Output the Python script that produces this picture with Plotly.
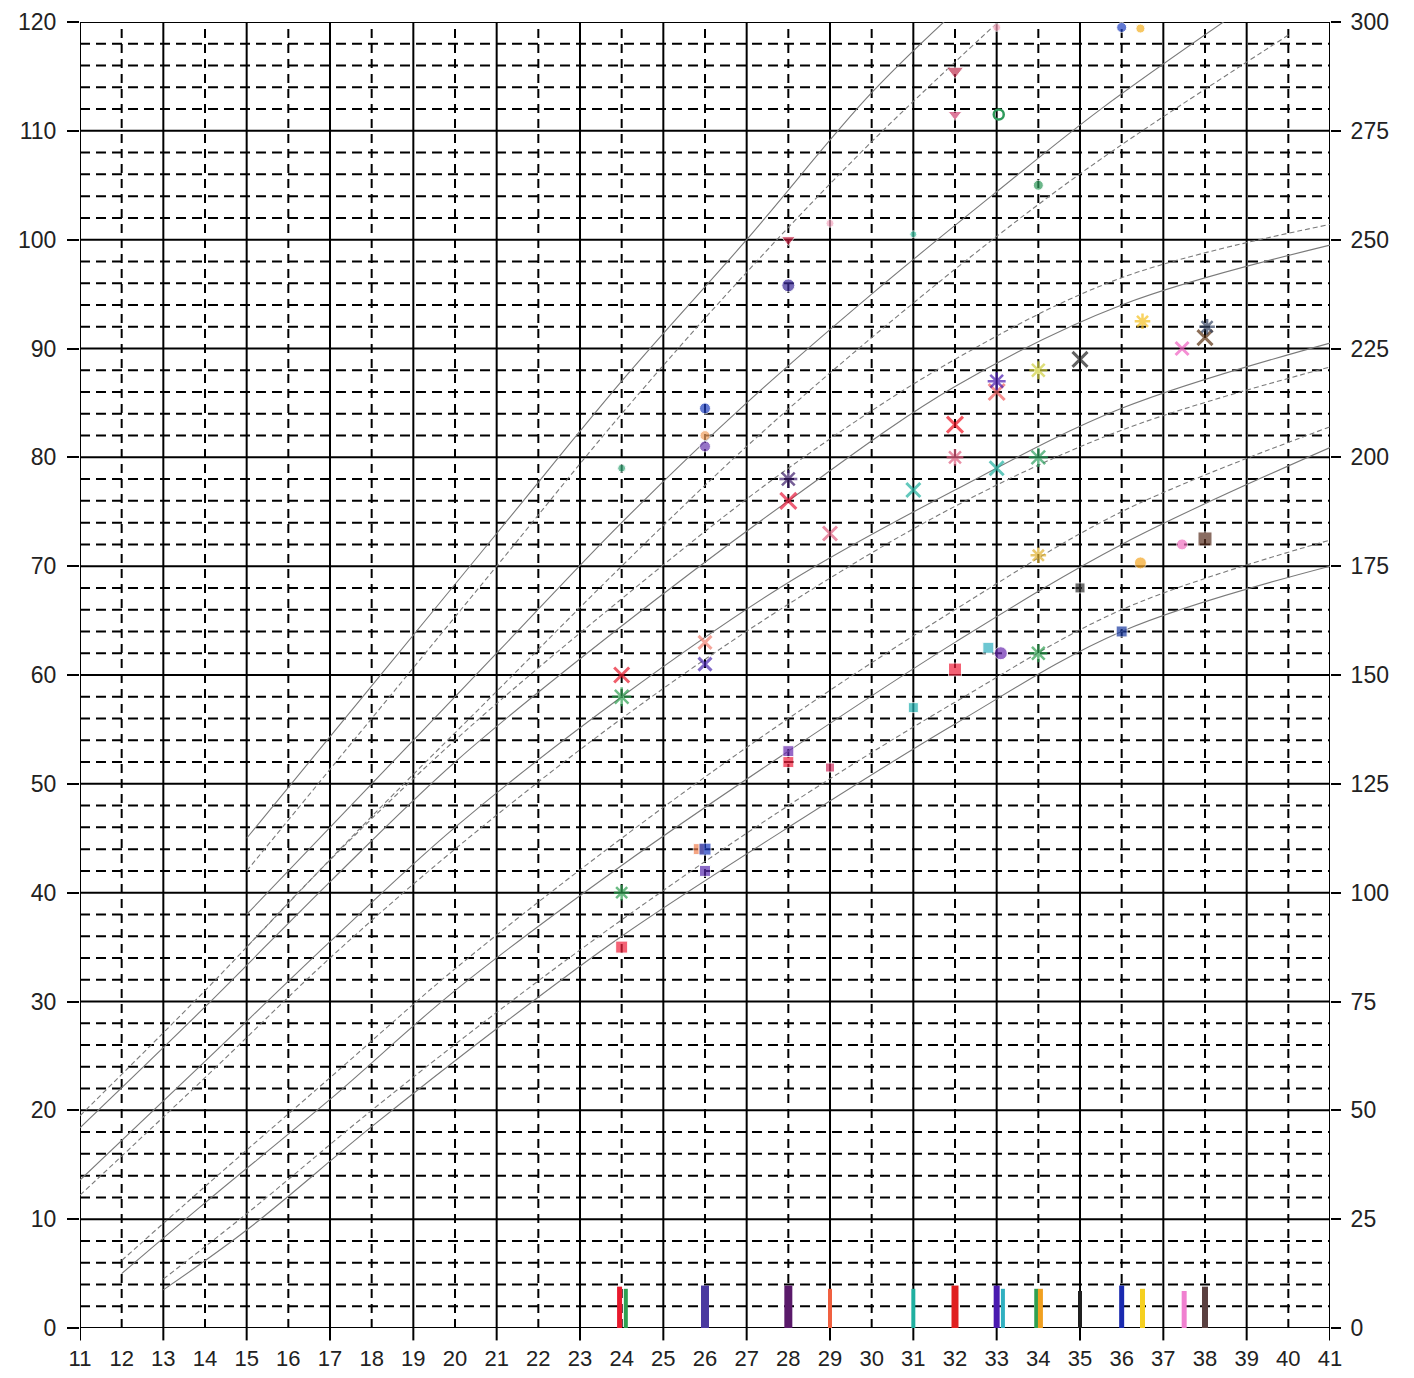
import plotly.graph_objects as go

# ---------------- axes ----------------
x_ticks = list(range(11, 42))
left_ticks = list(range(0, 121, 10))
right_ticks = list(range(0, 301, 25))

# ---------------- reference curves (left-axis units) ----------------
# steep group (right-axis measures)
c1_w = [15, 18, 21, 24, 27, 30, 32.3]
c1_v = [45, 59, 73, 87, 100, 113.5, 122]
c2_w = [15, 18, 21, 24, 27, 30, 33.6]
c2_v = [42, 56, 70, 84, 97, 109, 122]
c3_w = [15, 18, 21, 24, 27, 30, 33, 35.5, 39.2]
c3_v = [38, 50, 62, 74, 85, 95, 104.4, 112, 122]
c4_w = [15, 18, 21, 24, 27, 30, 33, 35.5, 40]
c4_v = [35, 47, 58.5, 70, 81, 91, 100.3, 107.4, 118.8]
# middle group
a1_w = [11, 14, 17, 20, 24, 28, 32, 36, 41]
a1_v = [19.5, 31, 43, 54, 67, 79, 89, 96.5, 101.4]
a2_w = [11, 14, 17, 20, 24, 28, 32, 36, 41]
a2_v = [18.4, 29.5, 41, 52, 64.5, 76, 86.5, 94, 99.5]
a3_w = [11, 14, 17, 20, 24, 28, 32, 36, 41]
a3_v = [13.6, 24.5, 35.5, 46, 58, 68.5, 77, 84.5, 90.5]
a4_w = [11, 14, 17, 20, 24, 28, 32, 36, 41]
a4_v = [12.2, 23, 34, 44, 56, 66.5, 75.5, 82.5, 88.3]
# lower group
b1_w = [12, 14, 17, 20, 24, 28, 32, 36, 41]
b1_v = [6.2, 13, 23, 33, 45, 56, 66, 75, 82.8]
b2_w = [12, 14, 17, 20, 24, 28, 32, 36, 41]
b2_v = [5, 11.5, 21, 31, 42.5, 53, 63, 72, 80.9]
b3_w = [13, 15, 18, 21, 24, 28, 32, 36, 41]
b3_v = [4.5, 10.5, 20, 29, 37.5, 48, 57.5, 66, 72.4]
b4_w = [13, 15, 18, 21, 24, 28, 32, 36, 41]
b4_v = [3.5, 9, 18.5, 27.5, 36, 46, 55.5, 64, 70]

curves = [
    (c1_w, c1_v, "solid"), (c2_w, c2_v, "dash"), (c3_w, c3_v, "solid"), (c4_w, c4_v, "dash"),
    (a1_w, a1_v, "dash"), (a2_w, a2_v, "solid"), (a3_w, a3_v, "solid"), (a4_w, a4_v, "dash"),
    (b1_w, b1_v, "dash"), (b2_w, b2_v, "solid"), (b3_w, b3_v, "dash"), (b4_w, b4_v, "solid"),
]

# ---------------- measurements ----------------
circ_x = [24, 26, 26, 26, 28, 29, 31, 33, 34, 36, 36.45, 37.45, 33.1, 36.45]
circ_y = [79, 84.5, 82, 81, 95.8, 101.5, 100.5, 119.5, 105, 119.5, 119.4, 72, 62, 70.3]
circ_c = ["#3aa87a", "#1f3fbf", "#f0a060", "#6a3ab0", "#3b2a9a", "#f4a6c0", "#3cc0a0",
          "#f4a0b8", "#2e9a5a", "#1f3fbf", "#f5b020", "#f070c0", "#6a2ab0", "#f5a623"]
circ_s = [8, 11, 10, 11, 13, 8, 7, 8, 10, 10, 9, 11, 13, 12]

ring_x = [33.05]
ring_y = [111.5]
ring_c = ["#2e9a5a"]

heart_x = [28, 32, 32]
heart_y = [100, 115.5, 111.5]
heart_c = ["#c0183a", "#c03050", "#d04070"]
heart_s = [12, 15, 12]

cross_x = [24, 26, 26, 28, 29, 31, 32, 33, 33, 35, 37.45, 38]
cross_y = [60, 63, 61, 76, 73, 77, 83, 86, 79, 89, 90, 91]
cross_c = ["#e8192c", "#f08070", "#4a2ab0", "#e8193c", "#e06080", "#20b0a0",
           "#f01020", "#f06060", "#20b0a0", "#202020", "#f060c0", "#5a3010"]
cross_s = [15, 13, 13, 16, 14, 14, 16, 16, 14, 15, 13, 15]

star_x = [24, 28, 32, 33, 34, 34, 34, 34, 38.05, 36.5, 24]
star_y = [58, 78, 80, 87, 88, 80, 71, 62, 92, 92.5, 40]
star_c = ["#2ea050", "#3a1a6a", "#e06080", "#4a1ab0", "#d0d040", "#2ea060",
          "#e0b030", "#2ea050", "#304060", "#f5c020", "#2ea050"]
star_s = [16, 15, 14, 15, 15, 16, 13, 15, 13, 13, 13]

sq_x = [24, 25.85, 26, 26, 28, 28, 29, 31, 32, 32.8, 35, 36, 38]
sq_y = [35, 44, 44, 42, 53, 52, 51.5, 57, 60.5, 62.5, 68, 64, 72.5]
sq_c = ["#f0203c", "#f08050", "#1a3ac0", "#5a2ab0", "#6a2ab0", "#f0203c", "#d03060",
        "#20b0b0", "#f0203c", "#30b0c0", "#303030", "#1a3aa0", "#5a3020"]
sq_s = [12, 11, 12, 11, 11, 11, 9, 10, 13, 11, 10, 11, 14]

# bars along the bottom
bar_x = [23.95, 24.1, 26, 28, 29, 31, 32, 33, 33.15, 33.95, 34.05, 35, 36, 36.5, 37.5, 38]
bar_top = [3.8, 3.6, 3.9, 3.9, 3.6, 3.6, 3.9, 3.9, 3.6, 3.6, 3.6, 3.4, 3.9, 3.6, 3.4, 3.8]
bar_c = ["#e8192c", "#2ea050", "#4a3aa0", "#5a1a6a", "#f06040", "#20b0a0", "#e02020",
         "#4a1ab0", "#30b0c0", "#2ea050", "#f0a020", "#202020", "#1a2ab0", "#f5d020",
         "#f080d0", "#5a4040"]
bar_w = [5, 4, 8, 8, 4, 4, 7, 6, 4, 4, 5, 4, 5, 5, 5, 6]

fig = go.Figure()

for w, v, d in curves:
    fig.add_trace(go.Scatter(
        x=w, y=v, mode="lines", line=dict(color="#7a7a7a", width=1.1, shape="spline",
                                          dash="solid" if d == "solid" else "5px,3px"),
        hoverinfo="skip", showlegend=False))

for x, t, c, w in zip(bar_x, bar_top, bar_c, bar_w):
    fig.add_trace(go.Scatter(x=[x, x], y=[0, t], mode="lines",
                             line=dict(color=c, width=w), showlegend=False))

fig.add_trace(go.Scatter(x=circ_x, y=circ_y, mode="markers",
                         marker=dict(symbol="circle", color=circ_c, size=circ_s), showlegend=False))
fig.add_trace(go.Scatter(x=ring_x, y=ring_y, mode="markers",
                         marker=dict(symbol="circle-open", color=ring_c, size=10,
                                     line=dict(width=2.5)), showlegend=False))
fig.add_trace(go.Scatter(x=heart_x, y=heart_y, mode="markers",
                         marker=dict(symbol="triangle-down", color=heart_c, size=heart_s), showlegend=False))
fig.add_trace(go.Scatter(x=cross_x, y=cross_y, mode="markers",
                         marker=dict(symbol="x-thin-open", color=cross_c, size=cross_s,
                                     line=dict(width=3, color=cross_c)), showlegend=False))
fig.add_trace(go.Scatter(x=star_x, y=star_y, mode="markers",
                         marker=dict(symbol="asterisk-open", color=star_c, size=star_s,
                                     line=dict(width=2.5, color=star_c)), showlegend=False))
fig.add_trace(go.Scatter(x=sq_x, y=sq_y, mode="markers",
                         marker=dict(symbol="square", color=sq_c, size=sq_s), showlegend=False))

# dummy trace for right axis
fig.add_trace(go.Scatter(x=[11], y=[0], yaxis="y2", mode="markers",
                         marker=dict(opacity=0), hoverinfo="skip", showlegend=False))

# grid as shapes
shapes = []
for xv in range(11, 42):
    if (xv - 11) % 2 == 0:
        shapes.append(dict(type="line", xref="x", yref="y", x0=xv, x1=xv, y0=0, y1=120,
                           line=dict(color="black", width=2), layer="below"))
        shapes.append(dict(type="line", xref="x", yref="paper", x0=xv, x1=xv, y0=0, y1=-0.0095,
                           line=dict(color="black", width=2), layer="below"))
    else:
        shapes.append(dict(type="line", xref="x", yref="y", x0=xv, x1=xv, y0=0, y1=120,
                           line=dict(color="black", width=2, dash="9px,6px"), layer="below"))
for yv in range(0, 121, 2):
    if yv % 10 == 0:
        shapes.append(dict(type="line", xref="x", yref="y", x0=11, x1=41, y0=yv, y1=yv,
                           line=dict(color="black", width=2), layer="below"))
    else:
        shapes.append(dict(type="line", xref="x", yref="y", x0=11, x1=41, y0=yv, y1=yv,
                           line=dict(color="black", width=2, dash="10px,6px"), layer="below"))

font = dict(family="Liberation Sans, Arial, sans-serif", size=23, color="#222")
xfont = dict(family="Liberation Sans, Arial, sans-serif", size=22, color="#222")

fig.update_layout(
    width=1398, height=1362,
    margin=dict(l=72, r=76, t=14, b=42),
    paper_bgcolor="white", plot_bgcolor="white",
    shapes=shapes,
    showlegend=False,
    xaxis=dict(range=[11, 41], tickvals=x_ticks, ticktext=[str(v) for v in x_ticks],
               showgrid=False, zeroline=False, ticks="", tickfont=xfont,
               ticklabelstandoff=15, fixedrange=True, automargin=False),
    yaxis=dict(range=[0, 120], tickvals=left_ticks, showgrid=False, zeroline=False,
               ticks="outside", ticklen=12, tickwidth=2, tickcolor="black",
               tickfont=font, ticklabelstandoff=6, automargin=False),
    yaxis2=dict(range=[0, 300], tickvals=right_ticks, overlaying="y", side="right",
                showgrid=False, zeroline=False, ticks="outside", ticklen=10, tickwidth=2,
                tickcolor="black", tickfont=font, ticklabelstandoff=5, automargin=False),
)

fig.write_html("out.html")
